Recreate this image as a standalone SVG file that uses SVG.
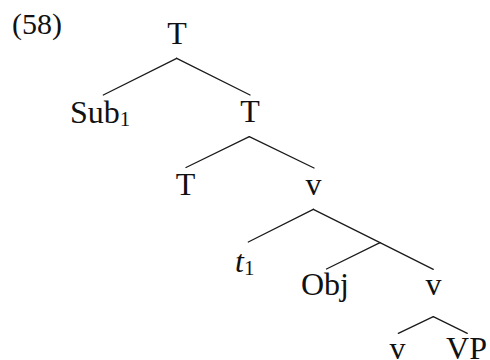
<svg xmlns="http://www.w3.org/2000/svg" width="490" height="360" viewBox="0 0 490 360">
<style>
text{font-family:"Liberation Serif","Times New Roman",serif;fill:#111;font-size:32px}
.n{text-anchor:middle}
.sub{font-size:21px}
.num{font-size:30px}
.e line{stroke:#1a1a1a;stroke-width:1.3;stroke-linecap:round}
</style>
<rect width="490" height="360" fill="#fff"/>
<text class="num" x="12" y="34">(58)</text>
<g class="e" id="connectors">
<line x1="176.7" y1="58.3" x2="103.3" y2="95"/>
<line x1="176.7" y1="58.3" x2="250" y2="95"/>
<line x1="249.3" y1="136.7" x2="186" y2="167.5"/>
<line x1="249.3" y1="136.7" x2="314" y2="168"/>
<line x1="313.3" y1="209.3" x2="248.3" y2="242"/>
<line x1="313.3" y1="209.3" x2="380" y2="242.6"/>
<line x1="380" y1="242.6" x2="433.3" y2="269.3"/>
<line x1="380" y1="242.6" x2="326.5" y2="269"/>
<line x1="433.3" y1="316.7" x2="398.3" y2="333.3"/>
<line x1="433.3" y1="316.7" x2="467.3" y2="333.3"/>
</g>
<g id="n-T-root"><text class="n" x="177" y="44">T</text></g>
<g id="n-Sub1"><text x="70" y="123">Sub<tspan class="sub" dy="3">1</tspan></text></g>
<g id="n-T-mid"><text class="n" x="250" y="122">T</text></g>
<g id="n-T-low"><text class="n" x="185.5" y="195">T</text></g>
<g id="n-v1"><text class="n" x="313.5" y="195">v</text></g>
<g id="n-t1"><text x="235" y="272"><tspan font-style="italic">t</tspan><tspan class="sub" dy="3">1</tspan></text></g>
<g id="n-Obj"><text class="n" x="325" y="295">Obj</text></g>
<g id="n-v2"><text class="n" x="433.5" y="295">v</text></g>
<g id="n-v3"><text class="n" x="397.5" y="359">v</text></g>
<g id="n-VP"><text class="n" x="466.5" y="359">VP</text></g>
</svg>
